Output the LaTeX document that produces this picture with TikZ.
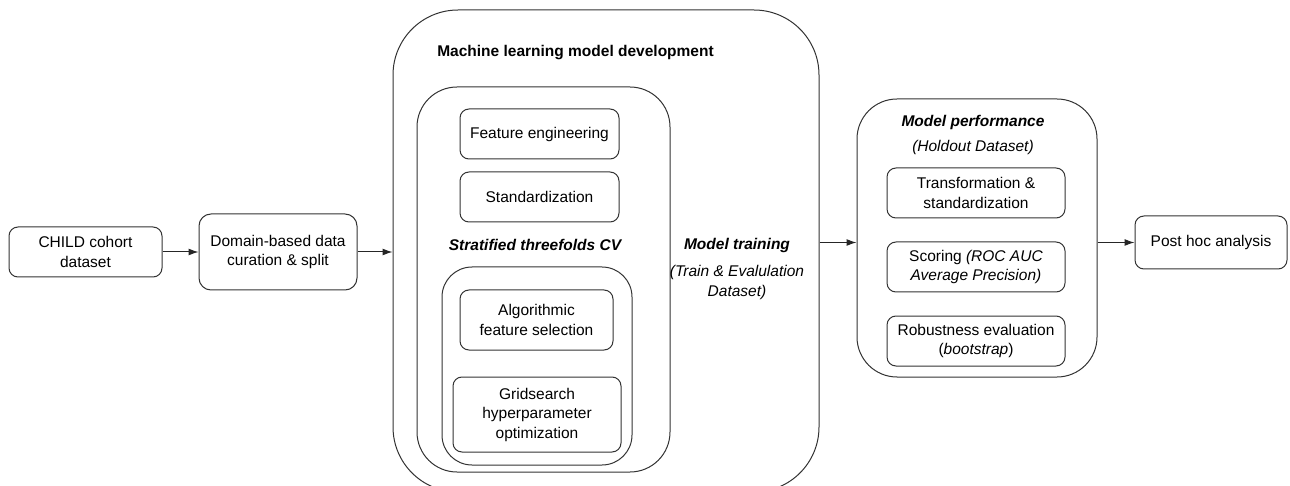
\documentclass[tikz,border=0pt]{standalone}
\usepackage{fontspec}
\setmainfont{Liberation Sans}
\usetikzlibrary{arrows.meta}
\begin{document}
\begin{tikzpicture}[x=1pt,y=-1pt,
  every node/.style={font=\fontsize{15.5}{19.5}\selectfont, align=center, inner sep=0pt},
  box/.style={draw=black!80, line width=1pt, rounded corners=9pt},
  container/.style={draw=black!80, line width=1pt},
  heading/.style={font=\fontsize{15.5}{19.5}\selectfont\bfseries\itshape},
  note/.style={font=\fontsize{15.5}{19.5}\selectfont\itshape},
  arr/.style={draw=black!85, line width=1pt, -{Latex[length=10pt,width=7pt]}}]
\useasboundingbox (0,0) rectangle (1290,486);
\clip (0,0) rectangle (1290,486);

% input stages
\node[box, minimum width=153pt, minimum height=50pt] (child) at (85.5,252) {CHILD cohort\\dataset};
\node[box, rounded corners=12pt, minimum width=158pt, minimum height=76pt] (domain) at (278,252) {Domain-based data\\curation \& split};

% model development container and its nested groups
\node[container, rounded corners=65pt, minimum width=426pt, minimum height=482pt] (mldev) at (606,251) {};
\node[font=\fontsize{15.5}{19.5}\selectfont\bfseries] (mltitle) at (575.5,53) {Machine learning model development};
\node[container, rounded corners=40pt, minimum width=253pt, minimum height=385pt] (train) at (543.5,279.5) {};
\node[box, minimum width=159pt, minimum height=50pt] (fe) at (539.5,134) {Feature engineering};
\node[box, minimum width=159pt, minimum height=50pt] (std) at (539.5,197) {Standardization};
\node[heading] (cvtitle) at (535,245) {Stratified threefolds CV};
\node[container, rounded corners=30pt, minimum width=190pt, minimum height=198pt] (cv) at (537,366) {};
\node[box, minimum width=153pt, minimum height=60pt] (algo) at (536.5,320) {Algorithmic\\feature selection};
\node[box, minimum width=168pt, minimum height=75pt] (grid) at (537,414.5) {Gridsearch\\hyperparameter\\optimization};
\node[heading] (trtitle) at (737,245) {Model training};
\node[note] (trdata) at (737,282.5) {(Train \& Evalulation\\Dataset)};

% model performance container
\node[container, rounded corners=40pt, minimum width=240pt, minimum height=278pt] (perf) at (977,238) {};
\node[heading] (perftitle) at (973,122) {Model performance};
\node[note] (perfdata) at (973,147) {(Holdout Dataset)};
\node[box, minimum width=178pt, minimum height=50pt] (trans) at (976,193) {Transformation \&\\standardization};
\node[box, minimum width=178pt, minimum height=50pt] (score) at (976,267) {Scoring \textit{(ROC AUC}\\\textit{Average Precision)}};
\node[box, minimum width=178pt, minimum height=50pt] (robust) at (976,341) {Robustness evaluation\\(\textit{bootstrap})};

% final stage
\node[box, minimum width=152pt, minimum height=53pt] (post) at (1211,242.5) {Post hoc analysis};

% connectors
\draw[arr] (child) -- (domain);
\draw[arr] (domain) -- (domain -| mldev.west);
\draw[arr] (mldev.east |- post) -- (perf.west |- post);
\draw[arr] (perf.east |- post) -- (post);
\end{tikzpicture}
\end{document}
